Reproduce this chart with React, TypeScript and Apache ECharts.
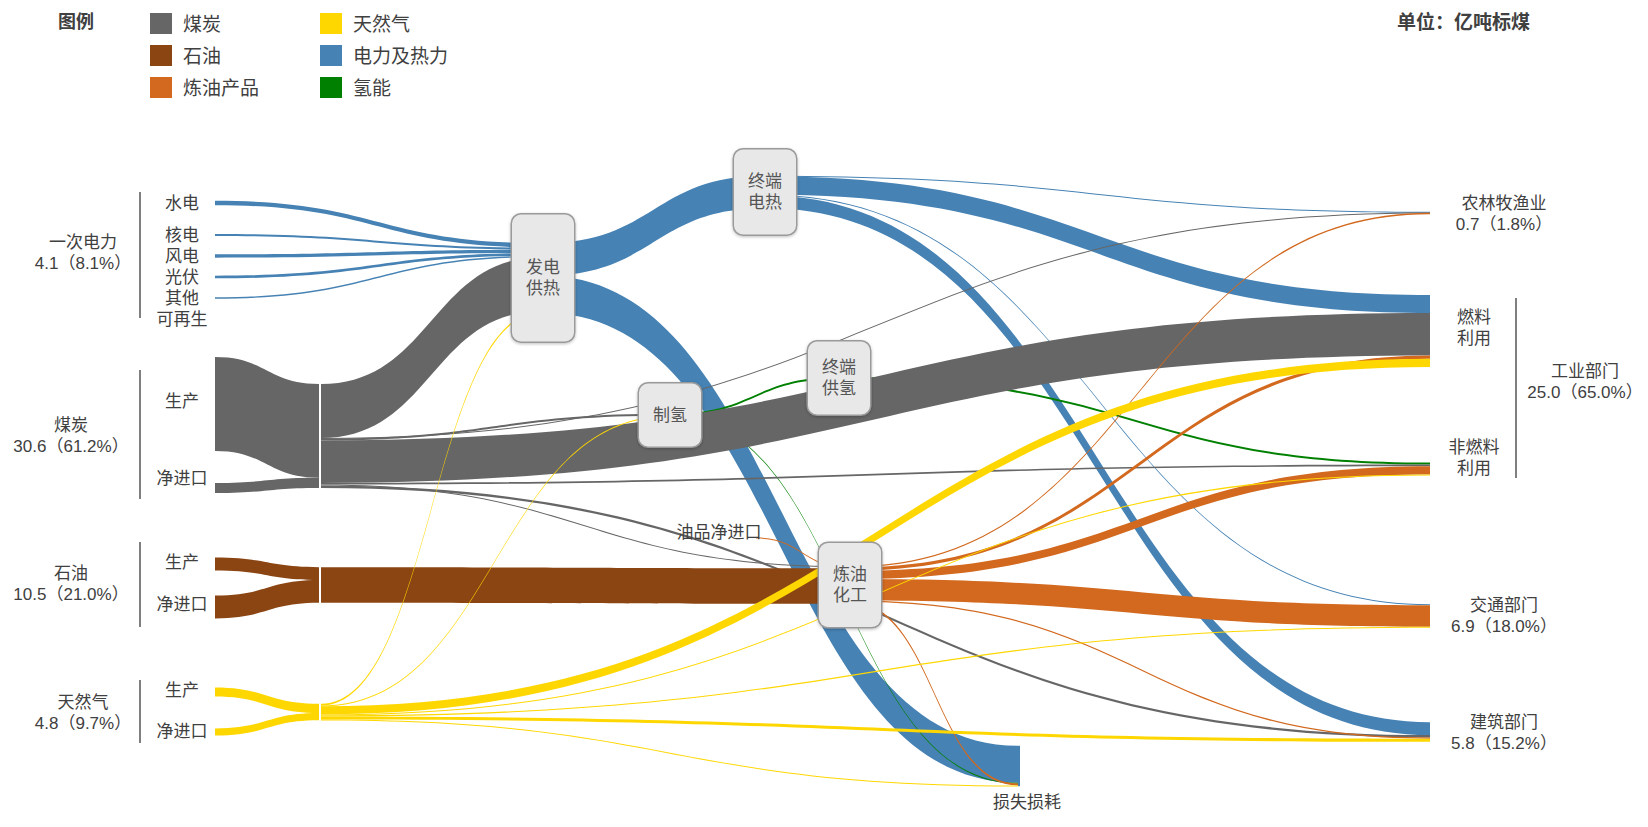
import React, { useEffect, useRef } from 'react';
import * as echarts from 'echarts';

// ---------------- data ----------------
const CARRIERS = ['煤炭', '石油', '炼油产品', '天然气', '电力及热力', '氢能'];
const CARRIER_COLORS = ['#666666', '#8B4513', '#D2691E', '#FFD700', '#4682B4', '#008000'];

type Flow = [string, string, number];

// 电力及热力
const POWER_FLOWS: Flow[] = [
  ['水电', '发电供热', 1.3],
  ['核电', '发电供热', 0.6],
  ['风电', '发电供热', 1.0],
  ['光伏', '发电供热', 0.8],
  ['其他可再生', '发电供热', 0.4],
  ['发电供热', '终端电热', 9.6],
  ['发电供热', '损失损耗', 10.9],
  ['终端电热', '农林牧渔业', 0.2],
  ['终端电热', '燃料利用', 5.3],
  ['终端电热', '交通部门', 0.3],
  ['终端电热', '建筑部门', 3.8],
];
// 氢能
const HYDROGEN_FLOWS: Flow[] = [
  ['制氢', '终端供氢', 0.6],
  ['制氢', '损失损耗', 0.2],
  ['终端供氢', '非燃料利用', 0.6],
];
// 煤炭
const COAL_FLOWS: Flow[] = [
  ['煤炭生产', '煤炭', 27.6],
  ['煤炭净进口', '煤炭', 3.0],
  ['煤炭', '发电供热', 15.9],
  ['煤炭', '农林牧渔业', 0.1],
  ['煤炭', '制氢', 0.6],
  ['煤炭', '燃料利用', 12.5],
  ['煤炭', '非燃料利用', 0.5],
  ['煤炭', '炼油化工', 0.3],
  ['煤炭', '建筑部门', 0.7],
];
// 炼油产品
const REFINED_FLOWS: Flow[] = [
  ['油品净进口', '炼油化工', 0.3],
  ['炼油化工', '农林牧渔业', 0.4],
  ['炼油化工', '燃料利用', 1.0],
  ['炼油化工', '非燃料利用', 2.4],
  ['炼油化工', '交通部门', 6.3],
  ['炼油化工', '建筑部门', 0.4],
  ['炼油化工', '损失损耗', 0.6],
];
// 石油
const OIL_FLOWS: Flow[] = [
  ['石油生产', '石油', 3.8],
  ['石油净进口', '石油', 6.7],
  ['石油', '炼油化工', 10.5],
];
// 天然气
const GAS_FLOWS: Flow[] = [
  ['天然气生产', '天然气', 2.7],
  ['天然气净进口', '天然气', 2.1],
  ['天然气', '发电供热', 0.5],
  ['天然气', '制氢', 0.2],
  ['天然气', '燃料利用', 2.4],
  ['天然气', '非燃料利用', 0.3],
  ['天然气', '交通部门', 0.3],
  ['天然气', '建筑部门', 0.9],
  ['天然气', '损失损耗', 0.2],
];

const SOURCE_GROUPS = ['一次电力', '煤炭', '石油', '天然气'];
const SOURCE_GROUP_VALUES = [4.1, 30.6, 10.5, 4.8];
const SOURCE_GROUP_SHARES = ['8.1%', '61.2%', '21.0%', '9.7%'];

const SECTORS = ['农林牧渔业', '工业部门', '交通部门', '建筑部门'];
const SECTOR_VALUES = [0.7, 25.0, 6.9, 5.8];
const SECTOR_SHARES = ['1.8%', '65.0%', '18.0%', '15.2%'];

const UNIT_TEXT = '单位：亿吨标煤';
const LEGEND_TITLE = '图例';

// ---------------- layout / style ----------------
const W = 1648;
const HPAGE = 827;
const PX_PER_UNIT = 3.4;
const NODE_W = 2;
const LINE_H = 21;
const TEXT = '#404040';
const FONT = '"Liberation Sans", "Noto Sans CJK SC", sans-serif';

const sectorLabel = (i: number) =>
  `${SECTORS[i]}\n${SECTOR_VALUES[i].toFixed(1)}（${SECTOR_SHARES[i]}）`;
const groupLabel = (i: number) =>
  `${SOURCE_GROUPS[i]}\n${SOURCE_GROUP_VALUES[i].toFixed(1)}（${SOURCE_GROUP_SHARES[i]}）`;

type Kind = 'source' | 'hub' | 'process' | 'sink' | 'loss';
interface NodeLayout {
  kind: Kind;
  x: number; // left edge of node rect (px)
  y: number; // vertical centre (px)
  text?: string;
  dist?: number;
  oy?: number;
  box?: number; // process box height
}

const NODE_LAYOUT: Record<string, NodeLayout> = {
  水电: { kind: 'source', x: 213, y: 203 },
  核电: { kind: 'source', x: 213, y: 235 },
  风电: { kind: 'source', x: 213, y: 256 },
  光伏: { kind: 'source', x: 213, y: 277 },
  其他可再生: { kind: 'source', x: 213, y: 298, text: '其他\n可再生', oy: 11 },
  煤炭生产: { kind: 'source', x: 213, y: 404, text: '生产', oy: -3 },
  煤炭净进口: { kind: 'source', x: 213, y: 488, text: '净进口', oy: -10 },
  石油生产: { kind: 'source', x: 213, y: 564, text: '生产', oy: -2 },
  石油净进口: { kind: 'source', x: 213, y: 607, text: '净进口', oy: -3 },
  天然气生产: { kind: 'source', x: 213, y: 692, text: '生产', oy: -2 },
  天然气净进口: { kind: 'source', x: 213, y: 732, text: '净进口', oy: -1 },
  油品净进口: { kind: 'source', x: 754, y: 538, dist: 35, oy: -6 },
  煤炭: { kind: 'hub', x: 319, y: 436 },
  石油: { kind: 'hub', x: 319, y: 585 },
  天然气: { kind: 'hub', x: 319, y: 712 },
  发电供热: { kind: 'process', x: 542, y: 278, text: '发电\n供热', box: 127 },
  终端电热: { kind: 'process', x: 764, y: 192, text: '终端\n电热', box: 85 },
  制氢: { kind: 'process', x: 669, y: 415, text: '制氢', box: 63 },
  终端供氢: { kind: 'process', x: 838, y: 378, text: '终端\n供氢', box: 73 },
  炼油化工: { kind: 'process', x: 849, y: 585, text: '炼油\n化工', box: 84 },
  损失损耗: { kind: 'loss', x: 1018, y: 766 },
  农林牧渔业: { kind: 'sink', x: 1430, y: 213, text: sectorLabel(0), dist: 72, oy: 1 },
  燃料利用: { kind: 'sink', x: 1430, y: 331, text: '燃料\n利用', dist: 42, oy: -3 },
  非燃料利用: { kind: 'sink', x: 1430, y: 469, text: '非燃料\n利用', dist: 42, oy: -11 },
  交通部门: { kind: 'sink', x: 1430, y: 616, text: sectorLabel(2), dist: 72 },
  建筑部门: { kind: 'sink', x: 1430, y: 732, text: sectorLabel(3), dist: 72, oy: 1 },
};

const GROUP_LABEL_POS = [[83, 253], [71, 436], [71, 584], [83, 713]];
const GROUP_BRACKETS = [[192, 318], [370, 499], [542, 627], [680, 743]];

function buildOption() {
  const groups: [Flow[], number][] = [
    [POWER_FLOWS, 4],
    [HYDROGEN_FLOWS, 5],
    [COAL_FLOWS, 0],
    [REFINED_FLOWS, 2],
    [OIL_FLOWS, 1],
    [GAS_FLOWS, 3],
  ];
  const links: any[] = [];
  const inSum: Record<string, number> = {};
  const outSum: Record<string, number> = {};
  groups.forEach(([flows, ci]) =>
    flows.forEach(([s, t, v]) => {
      links.push({ source: s, target: t, value: v, lineStyle: { color: CARRIER_COLORS[ci] } });
      outSum[s] = (outSum[s] || 0) + v;
      inSum[t] = (inSum[t] || 0) + v;
    })
  );
  const total = (n: string) => Math.max(inSum[n] || 0, outSum[n] || 0);
  const names = Object.keys(NODE_LAYOUT);
  const maxTotal = Math.max(...names.map(total));
  const H = Math.round(PX_PER_UNIT * maxTotal);
  const ky = H / maxTotal;

  const nodes = names.map((name, i) => {
    const L = NODE_LAYOUT[name];
    const h = total(name) * ky;
    const node: any = {
      name,
      depth: i,
      localX: L.x / W,
      localY: (L.y - h / 2) / H,
    };
    const baseLabel = { fontSize: 17, color: TEXT, fontFamily: FONT, lineHeight: LINE_H };
    if (L.kind === 'source') {
      node.itemStyle = { color: 'rgba(0,0,0,0)' };
      node.label = {
        ...baseLabel, show: true, position: 'left', distance: L.dist ?? 31,
        align: 'center', verticalAlign: 'middle', offset: [0, L.oy || 0],
        formatter: L.text ?? name,
      };
    } else if (L.kind === 'hub') {
      node.itemStyle = { color: '#ffffff' };
      node.label = { show: false };
    } else if (L.kind === 'process') {
      const text = L.text ?? name;
      const lines = text.split('\n').length;
      const pv = ((L.box || 60) - lines * LINE_H) / 2;
      node.itemStyle = { color: '#e8e8e8' };
      node.label = {
        ...baseLabel, show: true, position: 'inside', formatter: text,
        align: 'center', verticalAlign: 'middle', color: '#555',
        backgroundColor: '#e8e8e8', borderColor: '#9a9a9a', borderWidth: 1.5,
        borderRadius: 9, padding: [pv, 14, pv, 14],
        shadowBlur: 3, shadowColor: 'rgba(0,0,0,0.25)', shadowOffsetY: 1,
      };
    } else if (L.kind === 'sink') {
      node.itemStyle = { color: 'rgba(0,0,0,0)' };
      node.label = {
        ...baseLabel, show: true, position: 'right', distance: L.dist ?? 20,
        align: 'center', verticalAlign: 'middle', offset: [0, L.oy || 0],
        formatter: L.text ?? name,
      };
    } else {
      node.itemStyle = { color: CARRIER_COLORS[4] };
      node.label = {
        ...baseLabel, show: true, position: 'bottom', distance: 6,
        align: 'center', offset: [8, 0], formatter: name,
      };
    }
    return node;
  });

  const textStyle = (text: string, size = 17, weight: any = 'normal', align = 'left') => ({
    text, fill: TEXT, fontSize: size, fontWeight: weight, fontFamily: FONT,
    lineHeight: LINE_H, align, textAlign: align, verticalAlign: 'middle', textVerticalAlign: 'middle',
  });

  const graphics: any[] = [];
  // legend
  graphics.push({ type: 'text', x: 58, y: 22, style: textStyle(LEGEND_TITLE, 18, 'bold') });
  CARRIERS.forEach((c, i) => {
    const col = Math.floor(i / 3);
    const row = i % 3;
    const x = col === 0 ? 150 : 320;
    const y = 13 + row * 32;
    graphics.push({ type: 'rect', shape: { x, y, width: 22, height: 21 }, style: { fill: CARRIER_COLORS[i] } });
    graphics.push({ type: 'text', x: x + 33, y: y + 11, style: textStyle(c, 19) });
  });
  // unit
  graphics.push({ type: 'text', x: 1397, y: 22, style: textStyle(UNIT_TEXT, 19, 'bold') });
  // left groups
  SOURCE_GROUPS.forEach((_, i) => {
    const [y1, y2] = GROUP_BRACKETS[i];
    graphics.push({ type: 'line', shape: { x1: 140, y1, x2: 140, y2 }, style: { stroke: '#555', lineWidth: 1.5 } });
    const [cx, cy] = GROUP_LABEL_POS[i];
    graphics.push({ type: 'text', x: cx, y: cy, style: textStyle(groupLabel(i), 17, 'normal', 'center') });
  });
  // industry bracket
  graphics.push({ type: 'line', shape: { x1: 1516, y1: 298, x2: 1516, y2: 478 }, style: { stroke: '#555', lineWidth: 1.5 } });
  graphics.push({ type: 'text', x: 1585, y: 382, style: textStyle(sectorLabel(1), 17, 'normal', 'center') });

  return {
    animation: false,
    backgroundColor: '#ffffff',
    graphic: { elements: graphics },
    series: [
      {
        type: 'sankey',
        left: 0,
        top: 0,
        width: W,
        height: H,
        nodeWidth: NODE_W,
        // every node sits in its own column; a huge gap keeps the solver from shifting any of them
        nodeGap: 1e6,
        layoutIterations: 0,
        nodeAlign: 'left',
        draggable: false,
        silent: true,
        emphasis: { disabled: true },
        itemStyle: { borderWidth: 0 },
        lineStyle: { opacity: 1, curveness: 0.5 },
        label: { fontSize: 17, color: TEXT, fontFamily: FONT },
        data: nodes,
        links,
      },
    ],
  };
}

export default function App() {
  const ref = useRef<HTMLDivElement>(null);
  useEffect(() => {
    const chart = echarts.init(ref.current as HTMLDivElement, null, { renderer: 'svg' });
    chart.setOption(buildOption() as any);
    return () => chart.dispose();
  }, []);
  return (
    <div
      ref={ref}
      style={{ position: 'absolute', left: 0, top: 0, width: W, height: HPAGE, background: '#fff' }}
    />
  );
}
